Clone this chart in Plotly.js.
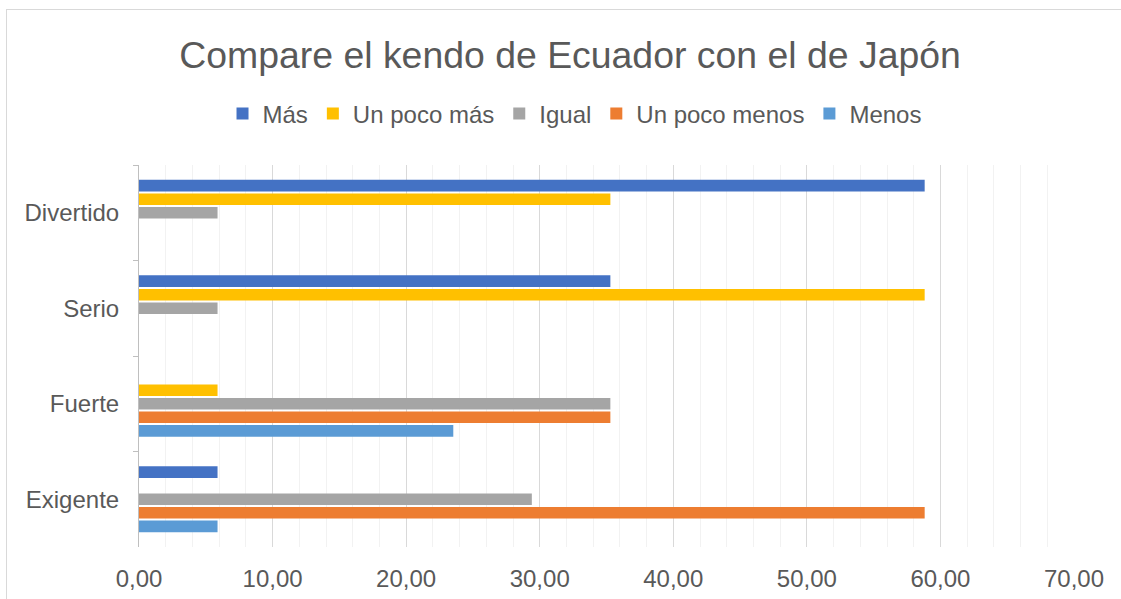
<!DOCTYPE html>
<html>
<head>
<meta charset="utf-8">
<script src="https://cdn.plot.ly/plotly-3.0.1.min.js"></script>
<style>
  html, body { margin: 0; padding: 0; width: 1121px; height: 599px; overflow: hidden; background: #ffffff; }
  #chart { position: absolute; left: 0; top: 0; width: 1121px; height: 599px; }
  #frame { position: absolute; left: 6px; top: 9px; width: 1130px; height: 620px; border: 1px solid #d9d9d9; pointer-events: none; box-sizing: border-box; }
</style>
</head>
<body>
<div id="chart"></div>
<div id="frame"></div>
<script>
const categories = ["Divertido", "Serio", "Fuerte", "Exigente"];
const seriesNames = ["Más", "Un poco más", "Igual", "Un poco menos", "Menos"];
const mas = [58.82, 35.29, 0, 5.88];
const unPocoMas = [35.29, 58.82, 5.88, 0];
const igual = [5.88, 5.88, 35.29, 29.41];
const unPocoMenos = [0, 0, 35.29, 58.82];
const menos = [0, 0, 23.53, 5.88];
const xTickVals = [0, 10, 20, 30, 40, 50, 60, 70];
const xTickText = ["0,00", "10,00", "20,00", "30,00", "40,00", "50,00", "60,00", "70,00"];

const seriesValues = [mas, unPocoMas, igual, unPocoMenos, menos];
const colors = ["#4472C4", "#FFC000", "#A5A5A5", "#ED7D31", "#5B9BD5"];

const traces = seriesNames.map((name, i) => ({
  type: "bar",
  orientation: "h",
  name: name,
  y: categories,
  x: seriesValues[i],
  marker: { color: colors[i], line: { width: 0 } },
  hoverinfo: "x+name"
}));

const font = "'Liberation Sans', Arial, sans-serif";

const layout = {
  width: 1121,
  height: 599,
  paper_bgcolor: "rgba(0,0,0,0)",
  plot_bgcolor: "rgba(0,0,0,0)",
  margin: { l: 139, r: 47, t: 165, b: 52, pad: 0 },
  font: { family: font, color: "#595959", size: 24 },
  title: {
    text: "Compare el kendo de Ecuador con el de Japón",
    font: { family: font, size: 37.4, color: "#595959" },
    xref: "container", yref: "container",
    x: 0.5085, xanchor: "center",
    y: 1 - 55 / 599, yanchor: "middle"
  },
  barmode: "group",
  bargap: 0.29,
  bargroupgap: 0.15,
  showlegend: true,
  legend: {
    orientation: "h",
    xref: "container", yref: "container",
    x: 0.5125, xanchor: "center",
    y: 1 - 114 / 599, yanchor: "middle",
    font: { family: font, size: 24, color: "#595959" },
    itemwidth: 30,
    traceorder: "normal"
  },
  xaxis: {
    range: [0, 70],
    tickvals: xTickVals,
    ticktext: xTickText,
    showgrid: true,
    gridcolor: "#d9d9d9",
    gridwidth: 1,
    zeroline: false,
    showline: false,
    ticks: "",
    ticklabelstandoff: 15,
    tickfont: { family: font, size: 24, color: "#595959" },
    minor: { dtick: 2, tick0: 0, showgrid: true, gridcolor: "#f2f2f2", gridwidth: 1, ticks: "" },
    fixedrange: true
  },
  yaxis: {
    type: "category",
    categoryorder: "array",
    categoryarray: categories,
    autorange: "reversed",
    showgrid: false,
    zeroline: false,
    showline: true,
    linecolor: "#bfbfbf",
    linewidth: 1,
    ticks: "outside",
    tickson: "boundaries",
    ticklen: 5,
    tickcolor: "#bfbfbf",
    ticklabelstandoff: 14,
    tickfont: { family: font, size: 24, color: "#595959" },
    fixedrange: true
  }
};

Plotly.newPlot("chart", traces, layout, { displayModeBar: false, staticPlot: true });
</script>
</body>
</html>
